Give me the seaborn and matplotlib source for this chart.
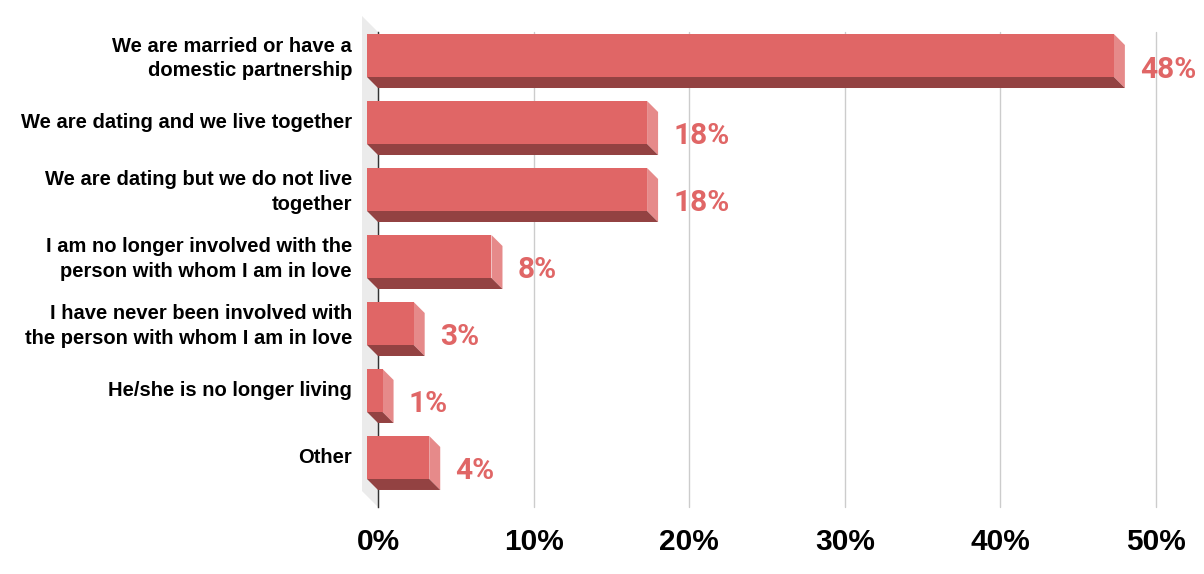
import matplotlib
matplotlib.use("Agg")
import matplotlib.pyplot as plt
import seaborn as sns
import pandas as pd
from matplotlib.patches import Polygon
from matplotlib.transforms import ScaledTranslation

# -----------------------------
# Data
# -----------------------------

categories = [
    "We are married or have a\ndomestic partnership",
    "We are dating and we live together",
    "We are dating but we do not live\ntogether",
    "I am no longer involved with the\nperson with whom I am in love",
    "I have never been involved with\nthe person with whom I am in love",
    "He/she is no longer living",
    "Other",
]
values = [48, 18, 18, 8, 3, 1, 4]
x_ticks = [0, 10, 20, 30, 40, 50]
x_tick_labels = ["0%", "10%", "20%", "30%", "40%", "50%"]

# -----------------------------
# Style
# -----------------------------

FRONT = "#E06666"
SIDE = "#E68A8A"
BOTTOM = "#934242"
WALL = "#EBEBEB"
DEPTH = 11   # px, 3d depth of the bars
WALL_DEPTH = 16

sns.set_style("white")
plt.rcParams["font.family"] = ["Liberation Sans", "DejaVu Sans"]
plt.rcParams["text.color"] = "black"
plt.rcParams["xtick.color"] = "black"
plt.rcParams["ytick.color"] = "black"

fig = plt.figure(figsize=(12.04, 5.74), dpi=100)
ax = fig.add_axes([378 / 1204, 67 / 574, 778 / 1204, 475 / 574])

df = pd.DataFrame({"answer": categories, "share": values})
sns.barplot(
    data=df, x="share", y="answer", orient="h",
    width=0.642, color=FRONT, saturation=1,
    linewidth=0, ax=ax, zorder=4,
)

ax.set_xlim(0, 50)
ax.set_ylim(6.575, -0.515)

# pixel -> data conversion for the 3d offset
px_x = ax.bbox.width / 50
px_y = ax.bbox.height / (6.575 + 0.515)
dx = DEPTH / px_x
dy = DEPTH / px_y   # y is inverted: going up on screen is minus

shift = ScaledTranslation(-DEPTH / 100, DEPTH / 100, fig.dpi_scale_trans)
label_shift = ScaledTranslation(-DEPTH / 100, 13 / 100, fig.dpi_scale_trans)

for bar in ax.patches:
    x0 = bar.get_x()
    w = bar.get_width()
    top = bar.get_y()
    bot = top + bar.get_height()
    x1 = x0 + w
    # side face
    ax.add_patch(Polygon(
        [(x1, top), (x1, bot), (x1 - dx, bot - dy), (x1 - dx, top - dy)],
        closed=True, facecolor=SIDE, edgecolor="none", zorder=3,
    ))
    # bottom face
    ax.add_patch(Polygon(
        [(x0, bot), (x1, bot), (x1 - dx, bot - dy), (x0 - dx, bot - dy)],
        closed=True, facecolor=BOTTOM, edgecolor="none", zorder=3,
    ))
    # front face moves forward
    bar.set_transform(ax.transData + shift)

for p in ax.patches:
    p.set_clip_on(False)

# left wall
wx = WALL_DEPTH / ax.bbox.width
wy = WALL_DEPTH / ax.bbox.height
ax.add_patch(Polygon(
    [(0, 1), (0, 0), (-wx, wy), (-wx, 1 + wy)],
    closed=True, facecolor=WALL, edgecolor="none",
    transform=ax.transAxes, clip_on=False, zorder=0,
))

# value labels
for i, v in enumerate(values):
    ax.annotate(
        f"{v}%", xy=(v, i), xytext=(15, -3), textcoords="offset pixels",
        ha="left", va="center", fontsize=21.5, fontweight="bold",
        color=FRONT, family="Roboto", zorder=5,
    )

# -----------------------------
# Axes
# -----------------------------

ax.set_xticks(x_ticks)
ax.set_xticklabels(x_tick_labels, fontsize=21.5, fontweight="bold")
ax.tick_params(axis="x", length=0, pad=15)
ax.tick_params(axis="y", length=0, pad=10.8)
for lab in ax.get_yticklabels():
    lab.set_fontsize(14.5)
    lab.set_fontweight("bold")
    lab.set_linespacing(1.38)
    lab.set_transform(lab.get_transform() + label_shift)

ax.xaxis.grid(True, color="#CCCCCC", linewidth=1, zorder=1)
for g in ax.get_xgridlines():
    g.set_clip_on(False)
ax.set_axisbelow(True)
ax.set_xlabel("")
ax.set_ylabel("")
for s in ["top", "right", "bottom"]:
    ax.spines[s].set_visible(False)
ax.spines["left"].set_color("#333333")
ax.spines["left"].set_linewidth(1)
ax.spines["left"].set_zorder(2)

fig.savefig("out.png", dpi=100)
